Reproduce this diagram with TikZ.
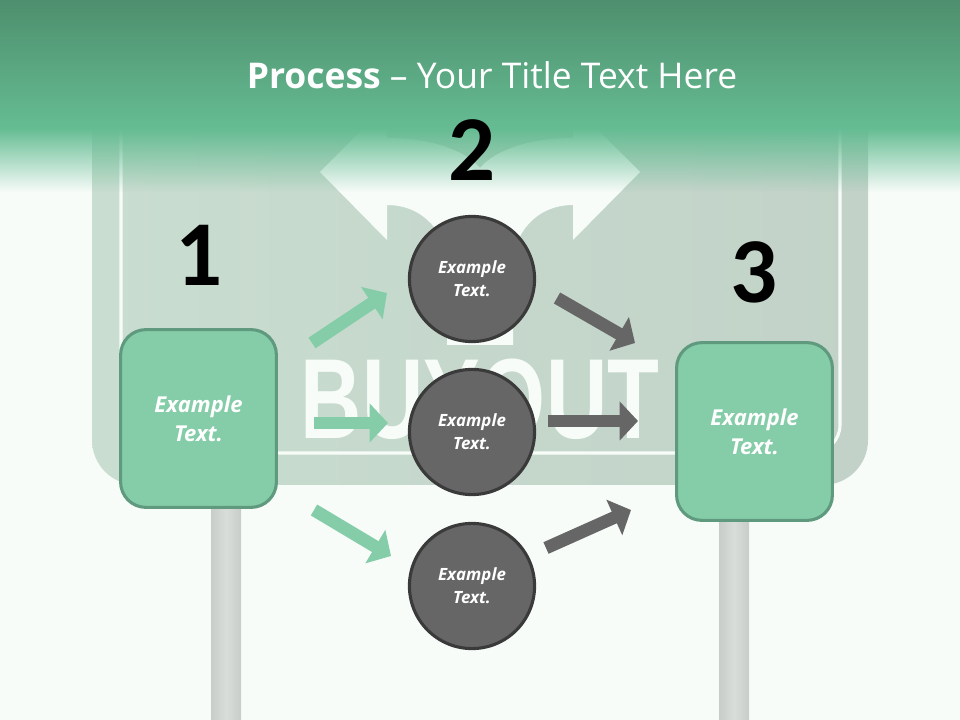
\documentclass[tikz,border=0pt]{standalone}
\usepackage{fontspec}
\usepackage{graphicx}
\setmainfont{Open Sans}
\newfontfamily\numfont{Carlito}
\newfontfamily\signfont{Liberation Sans}
\usetikzlibrary{arrows.meta,fadings}
\definecolor{pagebg}{HTML}{F7FCF9}
\definecolor{signlo}{HTML}{C2D2C8}
\definecolor{signhi}{HTML}{C9DDD0}
\definecolor{bandtop}{HTML}{4E8F6E}
\definecolor{bandlo}{HTML}{65BC93}
\definecolor{boxfill}{HTML}{85CDA9}
\definecolor{boxline}{HTML}{5F9A7E}
\definecolor{circfill}{HTML}{666666}
\definecolor{circline}{HTML}{3A3A3A}
\definecolor{postedge}{HTML}{C8CDCA}
\definecolor{postmid}{HTML}{D8DDDA}
\tikzfading[name=bandfade,top color=transparent!0,bottom color=transparent!100]
\tikzset{
  stepbox/.style={draw=boxline,line width=2.2pt,fill=boxfill,rounded corners=18pt,minimum width=110.8pt,minimum height=126.4pt,text=white,align=center,font=\bfseries\itshape\fontsize{15.6}{20.5}\selectfont},
  stepcirc/.style={draw=circline,line width=2.2pt,fill=circfill,circle,minimum size=89pt,inner sep=0pt,text=white,align=center,font=\bfseries\itshape\fontsize{12}{16.3}\selectfont},
  stepnum/.style={font=\numfont\bfseries\fontsize{66}{66}\selectfont,text=black},
  inarrow/.style={draw=boxfill,line width=9pt,-{Triangle[length=13pt,width=27pt]}},
  outarrow/.style={draw=circfill,line width=9pt,-{Triangle[length=13pt,width=27pt]}},
  post/.style={left color=postedge,right color=postedge,middle color=postmid}
}
\begin{document}
\begin{tikzpicture}[x=.025cm,y=-.025cm]
\useasboundingbox (0,0) rectangle (960,720);
\fill[pagebg] (0,0) rectangle (960,720);
% sign and posts
\shade[post] (211,480) rectangle (241,720);
\shade[post] (719,480) rectangle (749,720);
\shade[left color=signhi,right color=signlo,rounded corners=32pt] (92,60) rectangle (868,485);
\draw[pagebg,line width=2.2pt,rounded corners=20pt] (121,60) rectangle (840,453);
\fill[pagebg] (320,172) -- (387,105) -- (387,138) .. controls (430,138) and (465,150) .. (480,168) .. controls (495,150) and (530,138) .. (573,138) -- (573,105) -- (640,172) -- (573,240) -- (573,205) .. controls (535,205) and (513,235) .. (513,265) -- (513,345) -- (447,345) -- (447,265) .. controls (447,235) and (425,205) .. (387,205) -- (387,240) -- cycle;
\node[text=pagebg,font=\signfont\bfseries\fontsize{81}{81}\selectfont] (buyout) at (480,399) {\scalebox{.745}[1]{BUYOUT}};
% title band
\shade[top color=bandtop,bottom color=bandlo] (0,0) rectangle (960,128);
\fill[bandlo,path fading=bandfade] (0,128) rectangle (960,192);
\node[text=white,font=\fontsize{25.2}{30}\selectfont] (title) at (492,75) {\textbf{Process} -- Your Title Text Here};
% steps
\node[stepbox] (box1) at (198.5,418.5) {Example\\Text.};
\node[stepbox] (box3) at (754.5,431.5) {Example\\Text.};
\node[stepcirc] (circ1) at (472,279) {Example\\Text.};
\node[stepcirc] (circ2) at (472,432) {Example\\Text.};
\node[stepcirc] (circ3) at (472,586) {Example\\Text.};
\node[stepnum] (num1) at (199,255) {1};
\node[stepnum] (num2) at (472,150) {2};
\node[stepnum] (num3) at (754,272) {3};
% arrows
\coordinate (in1a) at (312,343);
\coordinate (in1b) at (387,293);
\coordinate (in2a) at (314,423);
\coordinate (in2b) at (388,423);
\coordinate (in3a) at (314,510);
\coordinate (in3b) at (391,556);
\coordinate (out1a) at (557,298);
\coordinate (out1b) at (635,343);
\coordinate (out2a) at (548,421);
\coordinate (out2b) at (638,421);
\coordinate (out3a) at (546,548);
\coordinate (out3b) at (631,510);
\draw[inarrow] (in1a) -- (in1b);
\draw[inarrow] (in2a) -- (in2b);
\draw[inarrow] (in3a) -- (in3b);
\draw[outarrow] (out1a) -- (out1b);
\draw[outarrow] (out2a) -- (out2b);
\draw[outarrow] (out3a) -- (out3b);
\end{tikzpicture}
\end{document}
